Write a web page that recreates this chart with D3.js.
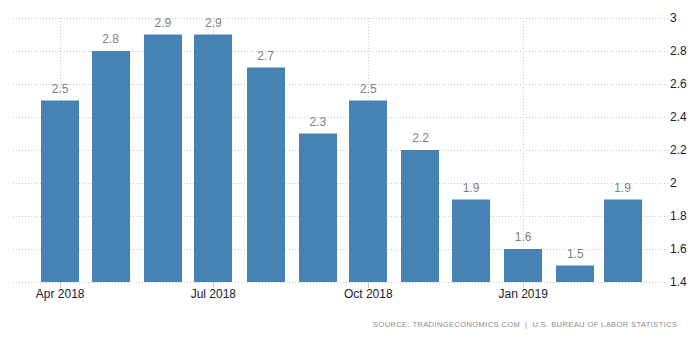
<!DOCTYPE html>
<html><head><meta charset="utf-8">
<script src="https://cdn.jsdelivr.net/npm/d3@7"></script>
<style>body{margin:0;background:#fff}svg{display:block;font-family:Arial,"Liberation Sans",sans-serif}</style>
</head><body><svg id="c" width="699" height="339"></svg>
<script>
const months = ["2018-04","2018-05","2018-06","2018-07","2018-08","2018-09","2018-10","2018-11","2018-12","2019-01","2019-02","2019-03"];
const values = [2.5,2.8,2.9,2.9,2.7,2.3,2.5,2.2,1.9,1.6,1.5,1.9];
const yTicks = [1.4,1.6,1.8,2,2.2,2.4,2.6,2.8,3];
const xTickDates = ["2018-04","2018-07","2018-10","2019-01"];
const xTickLabels = ["Apr 2018","Jul 2018","Oct 2018","Jan 2019"];
const source = "SOURCE: TRADINGECONOMICS.COM  |  U.S. BUREAU OF LABOR STATISTICS";

(function(){
const parse = d3.utcParse("%Y-%m");
const svg = d3.select("#c");
const pl = 13, pr = 668, pt = 18, pb = 282;
const x = d3.scaleUtc().domain([new Date(Date.UTC(2018,2,4)), new Date(Date.UTC(2019,2,28))]).range([pl, pr]);
const y = d3.scaleLinear().domain([1.4,3]).range([pb, pt]);
const bw = 38;

svg.append("g").selectAll("line").data(yTicks).join("line")
  .attr("x1", pl).attr("x2", pr)
  .attr("y1", d => y(d)+0.5).attr("y2", d => y(d)+0.5)
  .attr("stroke", "#c8c8c8").attr("stroke-dasharray", "1,2");
svg.append("g").selectAll("line").data(xTickDates).join("line")
  .attr("x1", d => Math.round(x(parse(d)))+0.5).attr("x2", d => Math.round(x(parse(d)))+0.5)
  .attr("y1", pt).attr("y2", pb)
  .attr("stroke", "#c8c8c8").attr("stroke-dasharray", "1,2");

svg.append("g").selectAll("rect").data(values).join("rect")
  .attr("x", (d,i) => Math.round(x(parse(months[i])) - bw/2))
  .attr("width", bw)
  .attr("y", d => y(d))
  .attr("height", d => pb - y(d))
  .attr("fill", "#4682b4");

svg.append("g").selectAll("text").data(values).join("text")
  .attr("x", (d,i) => x(parse(months[i])))
  .attr("y", d => y(d) - 8)
  .attr("text-anchor", "middle")
  .attr("font-size", 12).attr("fill", "#808080")
  .text(d => d3.format(".1f")(d));

const xa = svg.append("g");
xa.selectAll("line").data(xTickDates).join("line")
  .attr("x1", d => Math.round(x(parse(d)))+0.5).attr("x2", d => Math.round(x(parse(d)))+0.5)
  .attr("y1", pb).attr("y2", pb+6).attr("stroke", "#c8c8c8");
xa.selectAll("text").data(xTickDates).join("text")
  .attr("x", d => x(parse(d))).attr("y", pb+16)
  .attr("text-anchor", "middle").attr("font-size", 12).attr("fill", "#1a1a2e")
  .text((d,i) => xTickLabels[i]);

svg.append("g").selectAll("text").data(yTicks).join("text")
  .attr("x", 670).attr("y", d => y(d) + 4)
  .attr("font-size", 12).attr("fill", "#1a1a2e")
  .text(d => d3.format("~g")(d));

svg.append("text").attr("x", 373).attr("y", 327)
  .attr("font-size", 7.5).attr("fill", "#8a8a8a")
  .attr("textLength", 304).attr("lengthAdjust", "spacing")
  .attr("xml:space", "preserve")
  .text(source);
})();
</script></body></html>
